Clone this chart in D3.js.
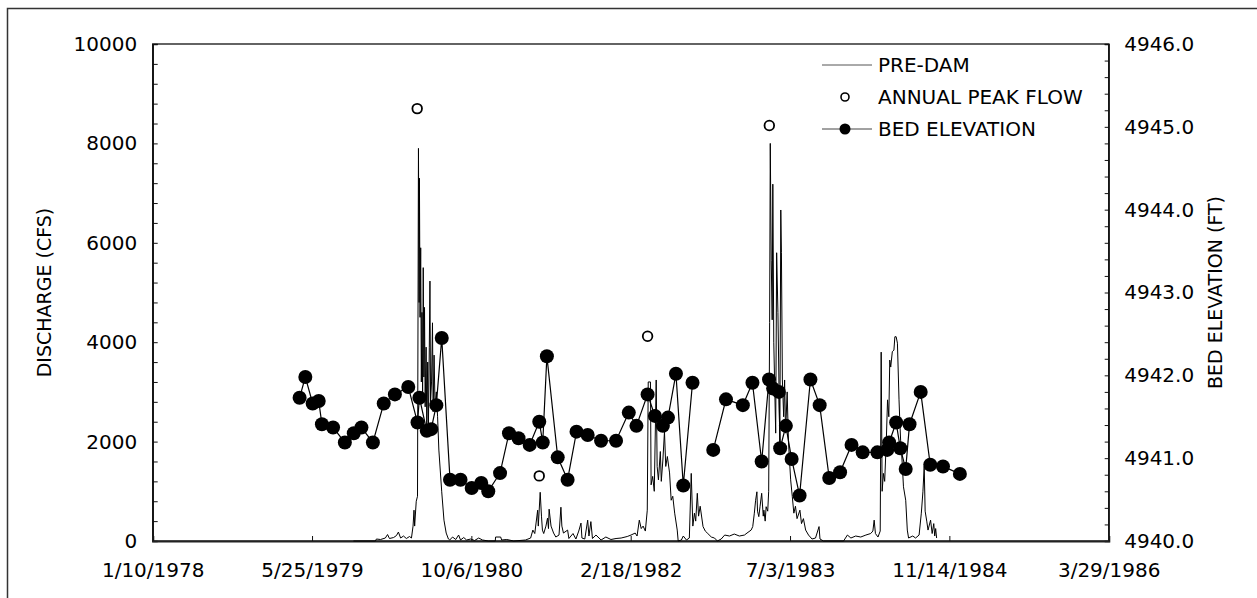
<!DOCTYPE html>
<html>
<head>
<meta charset="utf-8">
<script src="https://cdn.jsdelivr.net/npm/d3@7/dist/d3.min.js"></script>
<style>
  html, body { margin: 0; padding: 0; background: #fff; }
  svg { display: block; }
  text { font-family: "DejaVu Sans", Verdana, sans-serif; fill: #000; }
</style>
</head>
<body>
<svg id="chart" width="1257" height="598"></svg>
<script>
// ---------- DATA (dates are Excel serial day numbers, as in the source chart) ----------
const xTickSerials = [28500, 29000, 29500, 30000, 30500, 31000, 31500];
const xTickLabels = ["1/10/1978", "5/25/1979", "10/6/1980", "2/18/1982", "7/3/1983", "11/14/1984", "3/29/1986"];
const leftTickValues = [0, 2000, 4000, 6000, 8000, 10000];
const leftTickLabels = ["0", "2000", "4000", "6000", "8000", "10000"];
const rightTickValues = [4940, 4941, 4942, 4943, 4944, 4945, 4946];
const rightTickLabels = ["4940.0", "4941.0", "4942.0", "4943.0", "4944.0", "4945.0", "4946.0"];

// PRE-DAM daily discharge (CFS)
const flowDays = [29130,29199,29202,29215,29230,29237,29243,29256,29265,29271,29278,29287,29296,29306,29312,29317,29320,29322,29327,29331,
29334,29336,29337,29339,29341,29343,29345,29347,29349,29351,29353,29355,29358,29360,29363,29365,29368,29370,29372,29375,29378,29380,29383,29386,29390,29394,29398,29407,29414,29421,29428,
29432,29441,29451,29460,29466,29476,29485,29498,29510,29523,29535,29554,29575,29576,29592,29595,29611,29633,29670,29686,29693,29699,29708,29710,29716,29720,29723,29727,29734,29739,29742,29744,29750,29758,29765,29775,29781,29784,29789,29802,29806,29819,29828,29837,29844,29847,29856,29865,29869,29875,29880,29891,29907,29922,29938,29954,29970,29989,
30001,30014,30020,30027,30033,30039,30046,30052,30055,30062,30064,30069,30074,30080,30083,30087,30093,30096,30101,30106,30110,30115,30122,30127,30132,30138,30146,30149,30159,30165,30175,30184,30190,30195,30200,30204,30209,30213,30218,30227,30234,30242,30253,30263,30272,30284,30295,30310,30325,30341,30357,30365,30378,30383,30388,30392,30396,30398,30402,30406,30411,30416,30418,30422,30425,30430,30433,
30436,30438,30441,30444,30446,30449,30455,30458,30462,30468,30471,30473,30476,30480,30483,30486,30491,30495,30502,30507,30512,30517,30522,30531,30536,30542,30549,30558,30569,30580,30591,30594,30605,30668,30680,30691,30706,30722,30738,30753,30760,30764,30768,30776,30783,
30786,30789,30793,30797,30802,30806,30810,30813,30816,30821,30826,30829,30833,30837,30842,30844,30847,30850,30856,30863,30868,30872,30885,30894,30905,30912,30917,30921,30924,30929,30933,30941,30946,30951,30954,30957,30960];
const flowCfs = [0,0,40,30,60,130,50,70,110,180,60,100,50,90,60,300,620,300,800,900,
7900,4800,7300,4500,5900,3200,4600,2900,5500,3300,4700,2700,3900,2300,3600,2200,3900,5230,2800,3200,4390,2600,3740,2700,3000,2500,1830,990,420,160,40,
20,80,30,120,20,70,20,40,10,60,20,0,0,80,80,20,30,0,20,60,220,150,620,300,980,500,220,150,300,460,250,640,300,160,80,120,680,300,160,220,50,150,40,200,360,60,40,420,100,390,50,120,20,80,30,50,60,90,
120,160,100,420,250,300,200,620,3200,3200,1130,1300,1000,3240,1500,1230,1800,1200,1630,2200,1500,1700,1370,820,900,560,220,0,20,100,20,60,1360,300,560,400,960,500,700,290,200,150,80,60,0,40,120,100,140,100,120,160,220,290,560,820,990,600,490,700,960,500,620,400,690,600,1000,
4400,8000,5650,4450,7180,4000,2170,5800,4600,1970,6660,5800,3240,2500,3240,2170,3000,2000,1230,900,560,700,450,620,350,450,220,120,40,60,290,40,0,0,120,60,100,80,120,150,200,420,150,80,200,
3800,1000,1360,1200,2000,2840,2500,3640,3500,3810,3840,4110,4110,3980,2840,2500,2030,1800,1090,820,220,60,100,60,120,560,990,1500,600,400,220,420,150,350,100,250,60];

// Annual peak flow (CFS)
const peakDays = [29330, 29713, 30053, 30435];
const peakCfs = [8700, 1310, 4120, 8360];

// Bed elevation (FT); null marks the break in the record
const bedDays = [28961,28979,29002,29021,29031,29066,29103,29131,29155,29191,29225,29260,29302,29331,29337,29360,29374,29390,29407,29433,29466,29501,29531,29553,29590,29618,29648,29683,29713,29724,29737,29771,29802,29830,29865,29907,29954,29994,30018,30053,30076,30101,30117,30142,30165,30194,
30226,
30259,30299,30352,30382,30411,30434,30447,30465,30469,30487,30505,30530,30564,30593,30623,30657,30693,30728,30774,30805,30811,30833,30846,30863,30875,30910,30940,30980,31033];
const bedElev = [4941.73,4941.98,4941.66,4941.69,4941.41,4941.37,4941.19,4941.30,4941.37,4941.19,4941.66,4941.77,4941.86,4941.43,4941.73,4941.33,4941.35,4941.64,4942.45,4940.74,4940.74,4940.64,4940.70,4940.60,4940.82,4941.30,4941.24,4941.16,4941.44,4941.19,4942.23,4941.01,4940.74,4941.32,4941.28,4941.21,4941.21,4941.55,4941.39,4941.77,4941.51,4941.39,4941.49,4942.02,4940.67,4941.91,
null,
4941.10,4941.71,4941.64,4941.91,4940.96,4941.95,4941.84,4941.80,4941.12,4941.39,4940.99,4940.55,4941.95,4941.64,4940.76,4940.83,4941.16,4941.07,4941.07,4941.10,4941.19,4941.43,4941.12,4940.87,4941.41,4941.80,4940.92,4940.90,4940.81];

const legendLabels = ["PRE-DAM", "ANNUAL PEAK FLOW", "BED ELEVATION"];
const leftTitle = "DISCHARGE (CFS)";
const rightTitle = "BED ELEVATION (FT)";

// ---------- LAYOUT ----------
const svg = d3.select("#chart");
const L = 152.7, R = 1108.7, T = 44, B = 541;

const x = d3.scaleLinear().domain([28500, 31500]).range([L, R]);
const yL = d3.scaleLinear().domain([0, 10000]).range([B, T]);
const yR = d3.scaleLinear().domain([4940, 4946]).range([B, T]);

// outer frame
svg.append("rect").attr("x", 7.5).attr("y", 8.5).attr("width", 1300).attr("height", 700)
  .attr("fill", "none").attr("stroke", "#333").attr("stroke-width", 1.5);

// plot box
svg.append("rect").attr("x", L).attr("y", T).attr("width", R - L).attr("height", B - T)
  .attr("fill", "none").attr("stroke", "#111").attr("stroke-width", 1.3);

// left axis
const leftAx = d3.axisLeft(yL).tickValues(d3.range(0, 10001, 400)).tickSize(-5)
  .tickFormat(d => { const i = leftTickValues.indexOf(d); return i >= 0 ? leftTickLabels[i] : ""; });
const gL = svg.append("g").attr("transform", `translate(${L},0)`).call(leftAx);
gL.select(".domain").attr("stroke", "#111").attr("stroke-width", 1.5);
gL.selectAll(".tick line").attr("stroke", "#111");
gL.selectAll(".tick text").attr("x", -15.5).attr("font-size", 20).attr("font-family", "DejaVu Sans, Verdana, sans-serif").attr("fill", "#000");

// right axis
const rightAx = d3.axisRight(yR).tickValues(d3.range(0, 31).map(i => 4940 + i * 0.2)).tickSize(-4)
  .tickFormat(d => { const i = rightTickValues.findIndex(v => Math.abs(v - d) < 1e-6); return i >= 0 ? rightTickLabels[i] : ""; });
const gR = svg.append("g").attr("transform", `translate(${R},0)`).call(rightAx);
gR.select(".domain").attr("stroke", "#111").attr("stroke-width", 1.3);
gR.selectAll(".tick line").attr("stroke", "#111");
gR.selectAll(".tick text").attr("x", 15.5).attr("font-size", 20).attr("font-family", "DejaVu Sans, Verdana, sans-serif").attr("fill", "#000");

// bottom axis
const botAx = d3.axisBottom(x).tickValues(xTickSerials).tickSize(-5)
  .tickFormat((d, i) => xTickLabels[i]);
const gB = svg.append("g").attr("transform", `translate(0,${B})`).call(botAx);
gB.select(".domain").attr("stroke", "#222").attr("stroke-width", 2.2);
gB.selectAll(".tick line").attr("stroke", "#111");
gB.selectAll(".tick text").attr("y", 22).attr("font-size", 20).attr("font-family", "DejaVu Sans, Verdana, sans-serif").attr("fill", "#000");

// axis titles
svg.append("text").attr("transform", `translate(51,${(T + B) / 2}) rotate(-90)`)
  .attr("text-anchor", "middle").attr("font-size", 19).text(leftTitle);
svg.append("text").attr("transform", `translate(1222,${(T + B) / 2}) rotate(-90)`)
  .attr("text-anchor", "middle").attr("font-size", 19).text(rightTitle);

// ---------- SERIES ----------
const flowData = flowDays.map((d, i) => [d, flowCfs[i]]);
svg.append("path").datum(flowData)
  .attr("fill", "none").attr("stroke", "#000").attr("stroke-width", 1)
  .attr("d", d3.line().x(d => x(d[0])).y(d => yL(d[1])));

const bedData = bedDays.map((d, i) => [d, bedElev[i]]);
svg.append("path").datum(bedData)
  .attr("fill", "none").attr("stroke", "#000").attr("stroke-width", 1.2)
  .attr("d", d3.line().defined(d => d[1] !== null).x(d => x(d[0])).y(d => yR(d[1])));
svg.append("g").selectAll("circle").data(bedData.filter(d => d[1] !== null)).join("circle")
  .attr("cx", d => x(d[0])).attr("cy", d => yR(d[1])).attr("r", 7).attr("fill", "#000");

svg.append("g").selectAll("circle").data(peakDays.map((d, i) => [d, peakCfs[i]])).join("circle")
  .attr("cx", d => x(d[0])).attr("cy", d => yL(d[1])).attr("r", 4.8)
  .attr("fill", "#fff").attr("stroke", "#000").attr("stroke-width", 1.8);

// ---------- LEGEND ----------
const lg = svg.append("g");
const rows = [65, 97, 129];
lg.append("line").attr("x1", 822).attr("x2", 872).attr("y1", rows[0]).attr("y2", rows[0]).attr("stroke", "#555").attr("stroke-width", 1);
lg.append("circle").attr("cx", 845).attr("cy", rows[1]).attr("r", 4).attr("fill", "#fff").attr("stroke", "#000").attr("stroke-width", 1.6);
lg.append("line").attr("x1", 822).attr("x2", 872).attr("y1", rows[2]).attr("y2", rows[2]).attr("stroke", "#444").attr("stroke-width", 1);
lg.append("circle").attr("cx", 845).attr("cy", rows[2]).attr("r", 5.5).attr("fill", "#000");
legendLabels.forEach((t, i) => {
  lg.append("text").attr("x", 878).attr("y", rows[i]).attr("dy", "0.36em").attr("font-size", 20).text(t);
});
</script>
</body>
</html>
